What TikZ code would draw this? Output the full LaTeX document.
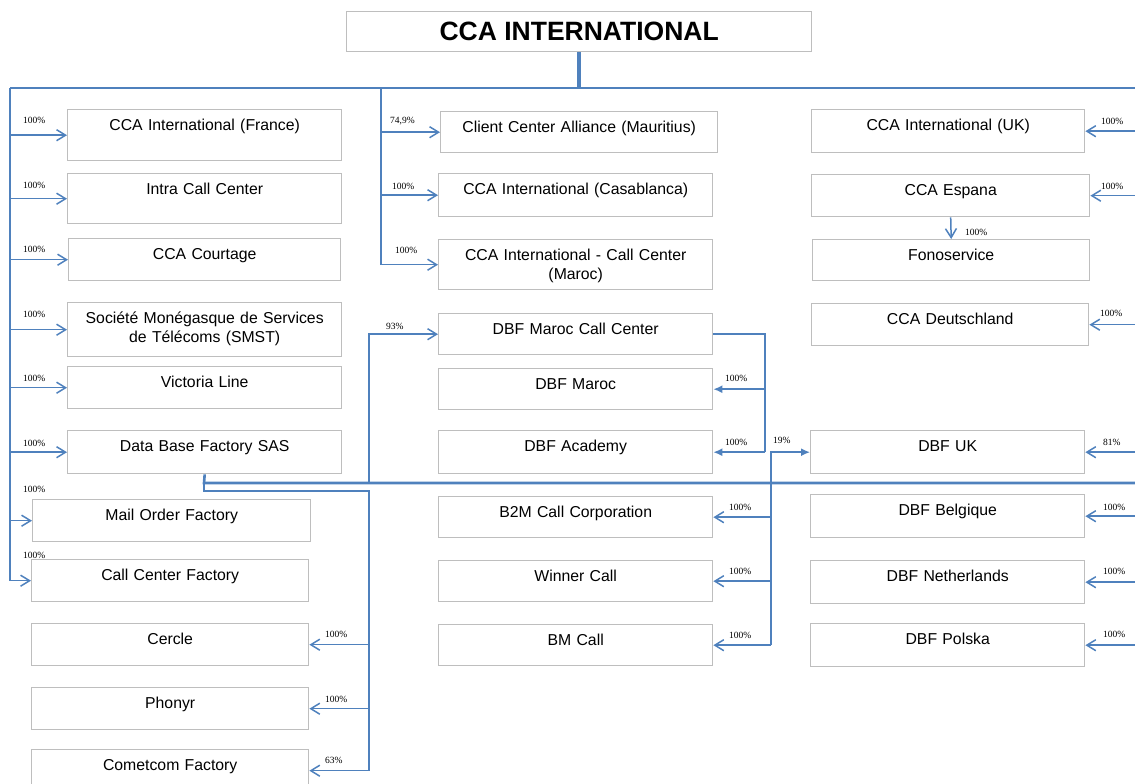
\documentclass[tikz,border=0pt]{standalone}
\usepackage{fontspec}
\setmainfont{Liberation Sans}
\newfontfamily\pctfont{Liberation Serif}
\usetikzlibrary{arrows.meta}
\definecolor{linkblue}{RGB}{79,129,189}
\definecolor{boxgray}{RGB}{190,190,190}

\begin{document}
\begin{tikzpicture}[x=1pt, y=-1pt,
    ent/.style={draw=boxgray, line width=1.4pt, anchor=north west, text width=#1,
      align=center, inner xsep=0pt, inner ysep=7.5pt, text height=13pt, text depth=14pt,
      font=\fontsize{15.8}{19}\selectfont},
    ent/.default=274pt,
    pct/.style={font=\pctfont\fontsize{9.5}{10}\selectfont, anchor=west, inner sep=0pt},
    bar/.style={draw=linkblue, line width=2.6pt},
    link/.style={draw=linkblue, line width=1.5pt},
    feed/.style={link, -{Straight Barb[length=9pt,width=11pt]}},
    feedfill/.style={link, -{Latex[length=9pt,width=8pt]}}]
    \useasboundingbox (0,0) rectangle (1135,784);
    \clip (0,0) rectangle (1135,784);

    % holding
    \node[draw=boxgray, line width=1.4pt, anchor=north west, minimum width=465pt,
      minimum height=40pt, inner sep=0pt, font=\bfseries\fontsize{26.5}{30}\selectfont]
      (cca) at (346,11) {CCA INTERNATIONAL};

    % left column
    \node[ent, text depth=23pt] (fra) at (67,109) {CCA International (France)};
    \node[ent, text depth=22pt] (intra) at (67,173) {Intra Call Center};
    \node[ent=272pt] (court) at (68,238) {CCA Courtage};
    \node[ent, text depth=26pt] (smst) at (67,302) {Société Monégasque de Services\\de Télécoms (SMST)};
    \node[ent] (vict) at (67,366) {Victoria Line};
    \node[ent, text depth=15pt] (dbs) at (67,430) {Data Base Factory SAS};
    \node[ent=278pt] (mof) at (32,499) {Mail Order Factory};
    \node[ent=277pt] (ccf) at (31,559) {Call Center Factory};
    \node[ent=277pt] (cercle) at (31,623) {Cercle};
    \node[ent=277pt] (phonyr) at (31,687) {Phonyr};
    \node[ent=277pt] (comet) at (31,749) {Cometcom Factory};

    % middle column
    \node[ent=277pt, text depth=13pt] (mu) at (440,111) {Client Center Alliance (Mauritius)};
    \node[ent, text depth=15pt] (casa) at (438,173) {CCA International (Casablanca)};
    \node[ent, text depth=22pt] (maroc) at (438,239) {CCA International - Call Center\\(Maroc)};
    \node[ent, text depth=13pt] (dbfmcc) at (438,313) {DBF Maroc Call Center};
    \node[ent, text depth=13pt] (dbfm) at (438,368) {DBF Maroc};
    \node[ent, text depth=15pt] (dbfa) at (438,430) {DBF Academy};
    \node[ent, text depth=13pt] (b2m) at (438,496) {B2M Call Corporation};
    \node[ent, text depth=13pt] (winner) at (438,560) {Winner Call};
    \node[ent, text depth=13pt] (bm) at (438,624) {BM Call};

    % right column
    \node[ent=273pt, text depth=15pt] (uk) at (811,109) {CCA International (UK)};
    \node[ent=278pt] (esp) at (811,174) {CCA Espana};
    \node[ent=277pt, text depth=13pt] (fono) at (812,239) {Fonoservice};
    \node[ent=277pt] (deu) at (811,303) {CCA Deutschland};
    \node[ent, text depth=15pt] (dbfuk) at (810,430) {DBF UK};
    \node[ent, text depth=15pt] (bel) at (810,494) {DBF Belgique};
    \node[ent, text depth=15pt] (ned) at (810,560) {DBF Netherlands};
    \node[ent, text depth=15pt] (pol) at (810,623) {DBF Polska};

    \coordinate (barL) at (10,88);
    \coordinate (barM) at (381,88);
    \coordinate (barR) at (1135,88);
    \coordinate (grp) at (204,483);
    \coordinate (sub) at (369,491);
    \coordinate (mcc) at (765,333);
    \coordinate (uk19) at (771,452);

    \draw[bar, line width=3.6pt] (cca.south) -- (cca.south |- barL);
    \draw[bar] (barL) -- (barR);
    \draw[bar, line width=2.2pt] (barL) -- (barL |- ccf.west);
    \foreach \n in {fra,intra,court,smst,vict,dbs,mof,ccf}
        \draw[feed] (barL |- \n.west) -- (\n.west);
    \draw[bar, line width=2pt] (barM) -- (barM |- maroc.west);
    \foreach \n in {mu,casa,maroc}
        \draw[feed] (barM |- \n.west) -- (\n.west);
    \foreach \n in {uk,esp,deu,dbfuk,bel,ned,pol}
        \draw[feed] (barR |- \n.east) -- (\n.east);
    \draw[feed] (esp.south) -- (fono.north);

    % DBF group
    \draw[bar] (dbs.south) -- (grp) -- (grp -| barR);
    \draw[bar, line width=2pt] (grp) -- (grp |- sub) -- (sub) -- (sub |- comet.east);
    \foreach \n in {cercle,phonyr,comet}
        \draw[feed] (sub |- \n.east) -- (\n.east);
    \draw[feed] (sub |- grp) |- (dbfmcc.west);
    \draw[link] (dbfmcc.east) -| (mcc |- dbfa.east);
    \foreach \n in {dbfm,dbfa}
        \draw[feedfill] (mcc |- \n.east) -- (\n.east);
    \draw[feedfill] (uk19 |- bm.east) |- (dbfuk.west);
    \foreach \n in {b2m,winner,bm}
        \draw[feed] (uk19 |- \n.east) -- (\n.east);

    % shares
    \foreach \n/\x/\y in {fra/23/120, intra/23/185, court/23/249, smst/23/314, vict/23/378,
        dbs/23/443, mof/23/489, ccf/23/555, casa/392/186, maroc/395/250,
        dbfm/725/378, dbfa/725/442, b2m/729/507, winner/729/571, bm/729/635,
        cercle/325/634, phonyr/325/699, uk/1101/121, esp/1101/186, deu/1100/313,
        bel/1103/507, ned/1103/571, pol/1103/634, fono/965/232}
        \node[pct] (p-\n) at (\x,\y) {100\%};
    \node[pct] (p-mu) at (390,121) {74,9\%};
    \node[pct] (p-dbfmcc) at (386,326) {93\%};
    \node[pct] (p-comet) at (325,760) {63\%};
    \node[pct] (p-dbfuk) at (1103,442) {81\%};
    \node[pct] (p-uk19) at (773,440) {19\%};
\end{tikzpicture}
\end{document}
